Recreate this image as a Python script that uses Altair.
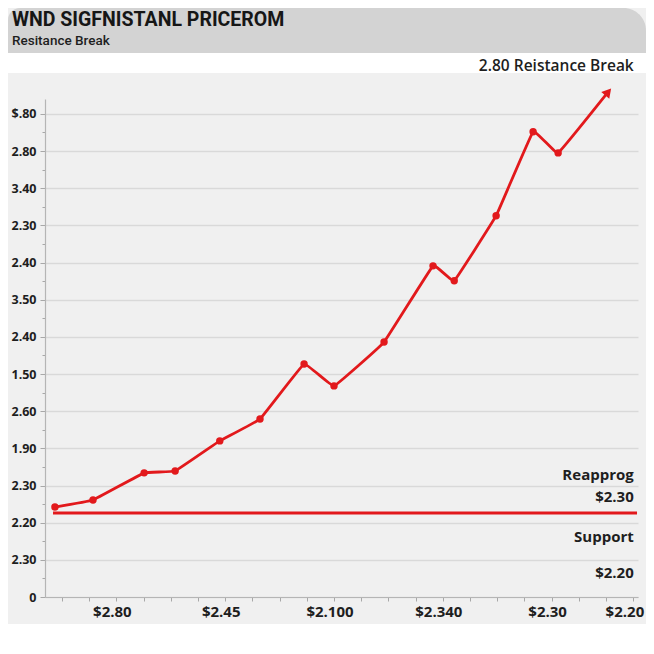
import altair as alt
import pandas as pd

# ---- data ----
price_x = [-0.13, 0.57, 1.51, 2.08, 2.90, 3.64, 4.45, 5.00, 5.92, 6.82, 7.21, 7.98, 8.66, 9.12]
price_y = [2.42, 2.61, 3.34, 3.39, 4.20, 4.79, 6.27, 5.68, 6.86, 8.91, 8.51, 10.26, 12.52, 11.95]
arrow_x = [10.04]
arrow_y = [13.59]

y_tick_labels = ["0", "2.30", "2.20", "2.30", "1.90", "2.60", "1.50",
                 "2.40", "3.50", "2.40", "2.30", "3.40", "2.80", "$.80"]
x_label_pos = [1, 3, 5, 7, 9, 10.5]
x_tick_labels = ["$2.80", "$2.45", "$2.100", "$2.340", "$2.30", "$2.20"]
x_label_row = [-0.4] * len(x_label_pos)

support_y = [2.26]
support_x = [-0.165]
support_x2 = [10.57]

note_text = ["Reapprog", "$2.30", "Support", "$2.20"]
note_y = [3.28, 2.69, 1.62, 0.65]
note_x = [10.51, 10.51, 10.51, 10.51]

resist_text = ["2.80 Reistance Break"]
resist_x = [10.51]
resist_y = [14.29]

RED = "#e2191c"
FONT = "Roboto"
AXFONT = "Open Sans"

# ---- tables ----
line_df = pd.DataFrame({"x": price_x + arrow_x, "y": price_y + arrow_y})
dot_df = pd.DataFrame({"x": price_x, "y": price_y})
arrow_df = pd.DataFrame({"x": arrow_x, "y": arrow_y})
support_df = pd.DataFrame({"x": support_x, "x2": support_x2, "y": support_y})
note_df = pd.DataFrame({"x": note_x, "y": note_y, "t": note_text})
resist_df = pd.DataFrame({"x": resist_x, "y": resist_y, "t": resist_text})
xlab_df = pd.DataFrame({"x": x_label_pos, "y": x_label_row, "t": x_tick_labels})

# ---- axes ----
def ternary(pos, labels):
    expr = "''"
    for p, l in reversed(list(zip(pos, labels))):
        lab = l.replace("$", "\\u0024")
        expr = f"(abs(datum.value - {p}) < 0.01 ? '{lab}' : {expr})"
    return expr

y_major = list(range(len(y_tick_labels)))
y_vals = [i / 2 for i in range(0, 2 * (len(y_tick_labels) - 1) + 1)]
x_vals = [i / 2 for i in range(0, 22)]

xscale = alt.Scale(domain=[-0.3125, 10.588], nice=False, zero=False)
yscale = alt.Scale(domain=[0, 13.4], nice=False, zero=False)

xaxis = alt.Axis(
    values=x_vals, labels=False, title=None,
    grid=False, domainColor="#b5b5b5", domainWidth=1.2,
    tickColor="#a8a8a8", tickSize=4,
)
yaxis = alt.Axis(
    values=y_vals, labelExpr=ternary(y_major, y_tick_labels), title=None,
    grid=True, gridColor="#d9d9d9", gridWidth=1.5,
    gridOpacity={"condition": {"test": "datum.value % 1 === 0", "value": 1}, "value": 0},
    tickSize={"condition": {"test": "datum.value % 1 === 0", "value": 5}, "value": 3},
    domainColor="#b5b5b5", domainWidth=1.2, tickColor="#a8a8a8",
    labelFont=AXFONT, labelFontWeight="bold", labelFontSize=12.5,
    labelColor="#1e1e1e", labelPadding=4, labelOverlap=False,
)

X = alt.X("x:Q", scale=xscale, axis=xaxis)
Y = alt.Y("y:Q", scale=yscale, axis=yaxis)

# ---- decoration (page bands) ----
one = alt.Data(values=[{}])
white_band = alt.Chart(one).mark_rect(fill="white").encode(
    x=alt.value(-37), x2=alt.value(601), y=alt.value(-46), y2=alt.value(-26))
bottom_band = alt.Chart(one).mark_rect(fill="white").encode(
    x=alt.value(-37), x2=alt.value(601), y=alt.value(525), y2=alt.value(547))
header_bg = alt.Chart(one).mark_rect(
    fill="#d3d3d3", cornerRadiusTopLeft=12, cornerRadiusTopRight=24
).encode(x=alt.value(-37), x2=alt.value(601), y=alt.value(-91), y2=alt.value(-46))

# ---- data layers ----
support = alt.Chart(support_df).mark_rule(color=RED, strokeWidth=3).encode(
    x=X, x2="x2:Q", y=Y)

line = alt.Chart(line_df).mark_line(
    color=RED, strokeWidth=2.8, interpolate="cardinal", tension=0.8).encode(x=X, y=Y)

dots = alt.Chart(dot_df).mark_point(
    filled=True, color=RED, size=55, opacity=1).encode(x=X, y=Y)

arrow = alt.Chart(arrow_df).mark_point(
    shape="triangle-up", filled=True, color=RED, size=110, angle=40, opacity=1
).encode(x=X, y=Y)

notes = alt.Chart(note_df).mark_text(
    align="right", baseline="middle", font=AXFONT, fontSize=15,
    fontWeight="bold", color="#1e1e1e").encode(x=X, y=Y, text="t:N")

resist = alt.Chart(resist_df).mark_text(
    align="right", baseline="middle", font=AXFONT, fontSize=15.5,
    fontWeight=600, color="#1e1e1e").encode(x=X, y=Y, text="t:N")

# x tick labels (text on the x scale, just under the axis)
xlab_common = dict(baseline="middle", font=AXFONT, fontSize=15,
                   fontWeight="bold", color="#1e1e1e")
xlabels = alt.Chart(xlab_df).transform_filter("datum.x < 10").mark_text(
    align="center", dx=-4, **xlab_common).encode(x=X, y=Y, text="t:N")
xlabel_last = alt.Chart(xlab_df).transform_filter("datum.x >= 10").mark_text(
    align="right", dx=11, **xlab_common).encode(x=X, y=Y, text="t:N")

chart = alt.layer(
    white_band, bottom_band, header_bg, support, line, dots, arrow, notes, resist,
    xlabels, xlabel_last
).properties(
    width=593, height=498,
    padding={"left": 37, "top": 91, "right": 8, "bottom": 49},
    autosize="none",
    title=alt.Title(
        "WND SIGFNISTANL PRICEROM", subtitle="Resitance Break",
        anchor="start", frame="group", dx=-33, dy=40,
        font=FONT, fontSize=19.5, fontWeight="bold", color="#161616",
        subtitleFont=FONT, subtitleFontSize=13.5, subtitleFontWeight=500,
        subtitleColor="#1e1e1e", subtitlePadding=3, offset=0,
    ),
).configure(background="#f0f0f0").configure_view(stroke=None)

chart.save("out.html", embed_options={"renderer": "svg", "actions": False})
